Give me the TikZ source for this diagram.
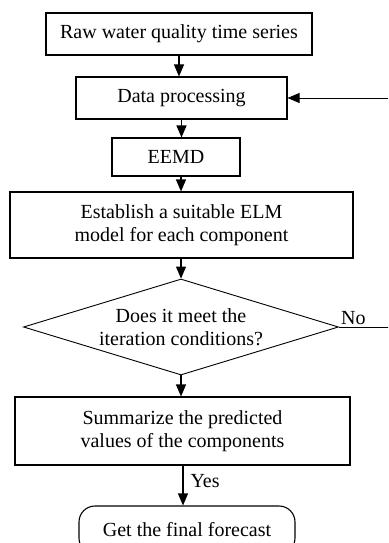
\documentclass[tikz,border=0pt]{standalone}
\usepackage{fontspec}
\setmainfont{Liberation Serif}
\usetikzlibrary{arrows.meta, shapes.geometric}

\begin{document}
\begin{tikzpicture}[
    x=1pt, y=-1pt,
    >={Triangle[length=12pt, width=10pt]},
    font=\fontsize{20}{23}\selectfont,
    stepbox/.style={draw, line width=1.1pt, rectangle, inner sep=0pt, align=center},
    decision/.style={draw, line width=0.9pt, diamond, shape aspect=3.3, inner sep=0pt, align=center},
    terminal/.style={draw, line width=1.1pt, rectangle, rounded corners=16pt, inner sep=0pt, align=center},
    flow/.style={->, line width=1.1pt},
    loopline/.style={->, line width=0.8pt},
]
    \useasboundingbox (0,0) rectangle (388,543);
    \clip (0,0) rectangle (388,543);

    % Steps
    \node[stepbox, minimum width=266pt, minimum height=42pt] (raw) at (179,34) {Raw water quality time series};
    \node[stepbox, minimum width=211pt, minimum height=42pt] (proc) at (181.5,98) {Data processing};
    \node[stepbox, minimum width=128pt, minimum height=38pt] (eemd) at (176,157) {EEMD};
    \node[stepbox, minimum width=343pt, minimum height=66pt] (elm) at (181.5,225) {Establish a suitable ELM\\model for each component};

    % Decision
    \node[decision, minimum width=315pt, minimum height=96pt] (cond) at (181,327) {Does it meet the\\iteration conditions?};

    % Summary and result
    \node[stepbox, minimum width=335pt, minimum height=68pt] (sumbox) at (182.5,431) {Summarize the predicted\\values of the components};
    \node[terminal, minimum width=216pt, minimum height=48pt] (final) at (187,530) {Get the final forecast};

    % Main flow
    \draw[flow] (raw.south) -- (raw.south |- proc.north);
    \draw[flow] (proc.south) -- (proc.south |- eemd.north);
    \draw[flow] (eemd.south -| cond.north) -- (cond.north |- elm.north);
    \draw[flow] (elm.south -| cond.north) -- (cond.north);
    \draw[flow] (cond.south) -- (cond.south |- sumbox.north);
    \draw[flow] (sumbox.south -| 183,0) -- (183,0 |- final.north)
        node[pos=0.4, right=7pt, inner sep=0pt] (yes) {Yes};

    % Feedback loop
    \coordinate (loopr) at (396,327);
    \draw[line width=0.8pt] (cond.east) -- (loopr);
    \draw[loopline] (loopr) |- (proc.east);
    \node[above right, inner sep=2pt] (no) at (cond.east) {No};

\end{tikzpicture}
\end{document}
